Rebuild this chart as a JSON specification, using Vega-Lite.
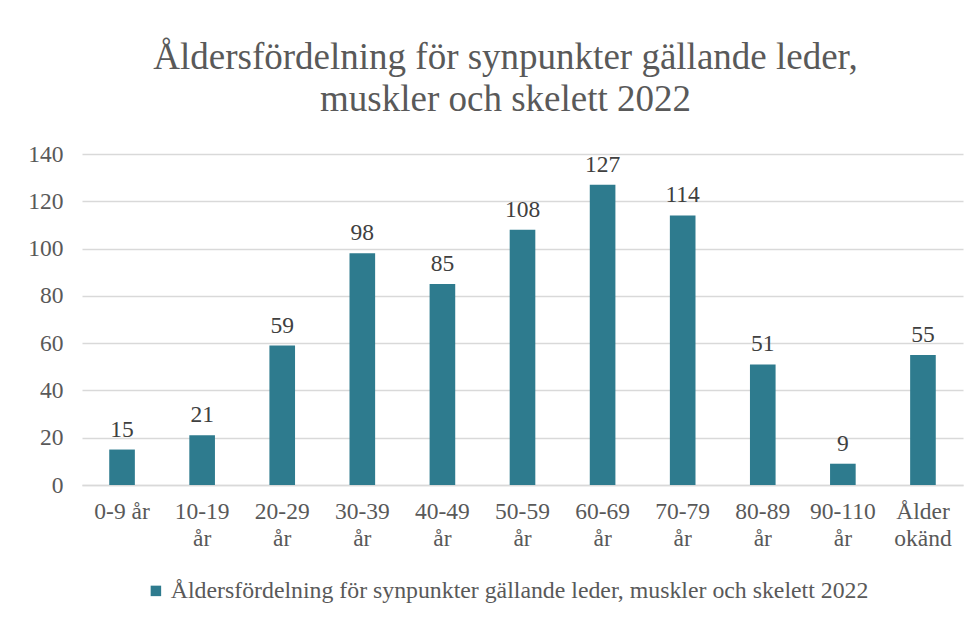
{
  "$schema": "https://vega.github.io/schema/vega-lite/v6.json",
  "width": 881,
  "height": 331,
  "autosize": {"type": "none"},
  "padding": {"left": 82, "top": 154, "right": 16, "bottom": 136},
  "background": "white",
  "config": {
    "font": "Liberation Serif",
    "view": {"stroke": null}
  },
  "title": {
    "text": ["Åldersfördelning för synpunkter gällande leder,", "muskler och skelett 2022"],
    "fontSize": 37,
    "fontWeight": "normal",
    "font": "Liberation Serif",
    "color": "#595959",
    "anchor": "middle",
    "dx": -17,
    "offset": 23,
    "lineHeight": 42
  },
  "data": {
    "values": [
      {"grupp": "0-9 år", "antal": 15, "serie": "Åldersfördelning för synpunkter gällande leder, muskler och skelett 2022"},
      {"grupp": "10-19 år", "antal": 21, "serie": "Åldersfördelning för synpunkter gällande leder, muskler och skelett 2022"},
      {"grupp": "20-29 år", "antal": 59, "serie": "Åldersfördelning för synpunkter gällande leder, muskler och skelett 2022"},
      {"grupp": "30-39 år", "antal": 98, "serie": "Åldersfördelning för synpunkter gällande leder, muskler och skelett 2022"},
      {"grupp": "40-49 år", "antal": 85, "serie": "Åldersfördelning för synpunkter gällande leder, muskler och skelett 2022"},
      {"grupp": "50-59 år", "antal": 108, "serie": "Åldersfördelning för synpunkter gällande leder, muskler och skelett 2022"},
      {"grupp": "60-69 år", "antal": 127, "serie": "Åldersfördelning för synpunkter gällande leder, muskler och skelett 2022"},
      {"grupp": "70-79 år", "antal": 114, "serie": "Åldersfördelning för synpunkter gällande leder, muskler och skelett 2022"},
      {"grupp": "80-89 år", "antal": 51, "serie": "Åldersfördelning för synpunkter gällande leder, muskler och skelett 2022"},
      {"grupp": "90-110 år", "antal": 9, "serie": "Åldersfördelning för synpunkter gällande leder, muskler och skelett 2022"},
      {"grupp": "Ålder okänd", "antal": 55, "serie": "Åldersfördelning för synpunkter gällande leder, muskler och skelett 2022"}
    ]
  },
  "encoding": {
    "x": {
      "field": "grupp",
      "type": "nominal",
      "sort": null,
      "scale": {"paddingInner": 0.68, "paddingOuter": 0.34},
      "axis": {
        "title": null,
        "labelAngle": 0,
        "labelFont": "Liberation Serif",
        "labelFontSize": 23.5,
        "labelColor": "#595959",
        "labelPadding": 14,
        "labelLineHeight": 27,
        "labelExpr": "datum.label == '0-9 år' ? datum.label : split(datum.label, ' ')",
        "domainColor": "#D9D9D9",
        "domainWidth": 1.5,
        "ticks": false
      }
    },
    "y": {
      "field": "antal",
      "type": "quantitative",
      "scale": {"domain": [0, 140]},
      "axis": {
        "title": null,
        "values": [0, 20, 40, 60, 80, 100, 120, 140],
        "labelFont": "Liberation Serif",
        "labelFontSize": 23.5,
        "labelColor": "#595959",
        "labelPadding": 19,
        "domain": false,
        "ticks": false,
        "gridColor": "#D9D9D9",
        "gridWidth": 1.5
      }
    }
  },
  "layer": [
    {
      "mark": {"type": "bar", "color": "#2E7B8E"},
      "encoding": {
        "color": {
          "field": "serie",
          "type": "nominal",
          "scale": {"range": ["#2E7B8E"]},
          "legend": {
            "title": null,
            "orient": "none",
            "legendX": 62,
            "legendY": 425,
            "symbolType": "square",
            "symbolSize": 110,
            "symbolStrokeWidth": 0,
            "labelFont": "Liberation Serif",
            "labelFontSize": 23.8,
            "labelColor": "#595959",
            "labelLimit": 900,
            "labelOffset": 3
          }
        }
      }
    },
    {
      "mark": {
        "type": "text",
        "baseline": "bottom",
        "dy": -8,
        "font": "Liberation Serif",
        "fontSize": 23.5,
        "color": "#404040"
      },
      "encoding": {
        "text": {"field": "antal", "type": "quantitative"}
      }
    }
  ]
}
